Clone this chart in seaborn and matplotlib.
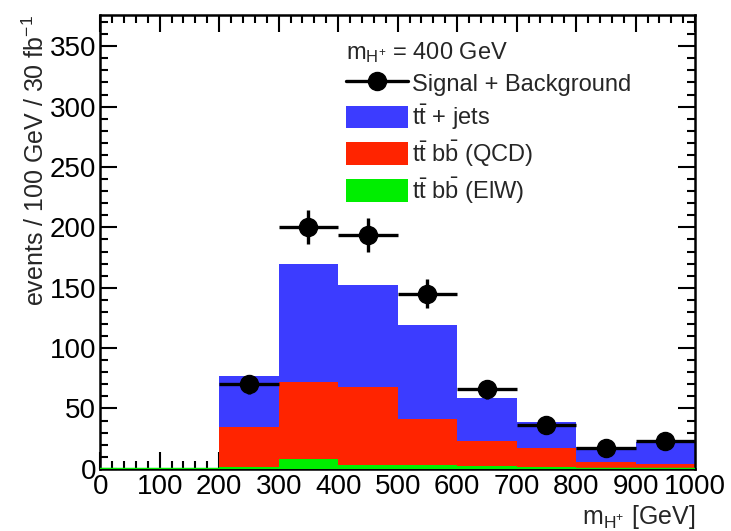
import numpy as np
import pandas as pd
import matplotlib
matplotlib.use("Agg")
import matplotlib.pyplot as plt
from matplotlib.patches import Patch
from matplotlib.lines import Line2D
from matplotlib.ticker import MultipleLocator
import seaborn as sns

# ---- data ----
bin_centers = [250, 350, 450, 550, 650, 750, 850, 950]
bin_edges = [200, 300, 400, 500, 600, 700, 800, 900, 1000]
ttjets = [42, 98, 84, 78, 36, 22, 12, 18]
ttbb_qcd = [33.5, 64, 65, 38, 21, 15.5, 5.5, 3.5]
ttbb_ew = [1.5, 8, 3, 3, 2, 1.5, 0.5, 0.5]
sig_bkg = [70, 200, 194, 145, 66, 36, 17, 23]
sig_err = [8, 14, 14, 12, 8, 6, 4, 5]
x_ticks = [0, 100, 200, 300, 400, 500, 600, 700, 800, 900, 1000]
y_ticks = [0, 50, 100, 150, 200, 250, 300, 350]

labels = [r"$\mathregular{t\bar{t}}$ + jets",
          r"$\mathregular{t\bar{t}\ b\bar{b}}$ (QCD)",
          r"$\mathregular{t\bar{t}\ b\bar{b}}$ (ElW)"]
colors = ["#3c3cff", "#ff2400", "#00ee00"]

rows = []
for lab, vals in zip(labels, [ttjets, ttbb_qcd, ttbb_ew]):
    for c, v in zip(bin_centers, vals):
        rows.append({"mass": c, "count": v, "process": lab})
df = pd.DataFrame(rows)

sns.set_style("ticks")
plt.rcParams["font.family"] = ["Liberation Sans", "DejaVu Sans"]
plt.rcParams["mathtext.fontset"] = "custom"
plt.rcParams["mathtext.rm"] = "Liberation Sans"
plt.rcParams["mathtext.it"] = "Liberation Sans"
plt.rcParams["mathtext.default"] = "regular"

fig = plt.figure(figsize=(7.31, 5.31), dpi=100)
ax = fig.add_axes([0.137, 0.117, 0.814, 0.855])

sns.histplot(data=df, x="mass", weights="count", hue="process",
             hue_order=labels, palette=dict(zip(labels, colors)),
             multiple="stack", bins=bin_edges, element="bars",
             linewidth=0, alpha=1, legend=False, ax=ax)

ax.axhline(0, color="#00ee00", lw=2.5, zorder=3)

ax.errorbar(bin_centers, sig_bkg, yerr=sig_err, xerr=50, fmt="o",
            color="black", markersize=13, elinewidth=2.4, capsize=0, zorder=5)

ax.set_xlim(0, 1000)
ax.set_ylim(0, 376)
ax.set_xticks(x_ticks)
ax.set_yticks(y_ticks)
ax.xaxis.set_minor_locator(MultipleLocator(20))
ax.yaxis.set_minor_locator(MultipleLocator(10))
ax.tick_params(which="both", direction="in", top=True, right=True,
               width=1.5, labelsize=20, colors="black")
ax.tick_params(which="major", length=12)
ax.tick_params(which="minor", length=6)
ax.tick_params(axis="x", pad=4)
ax.tick_params(axis="y", pad=3)
for s in ax.spines.values():
    s.set_linewidth(1.8)
    s.set_color("black")

ax.set_xlabel(r"m$_{H^{+}}$ [GeV]", fontsize=18, loc="right", labelpad=2)
ax.set_ylabel(r"events / 100 GeV / 30 fb$^{-1}$", fontsize=18, loc="top", labelpad=0)

handles = [Line2D([0], [0], color="black", marker="o", markersize=13, lw=2.4)]
handles += [Patch(facecolor=c, edgecolor="none") for c in colors]
leg = ax.legend(handles, ["Signal + Background"] + labels,
                title=r"m$_{H^{+}}$ = 400 GeV", alignment="left",
                loc="upper left", bbox_to_anchor=(0.39, 0.975), frameon=False,
                fontsize=17, title_fontsize=17, handlelength=2.6,
                handleheight=1.1, handletextpad=0.2, labelspacing=0.27,
                borderaxespad=0.2)

fig.savefig("out.png", dpi=100)
